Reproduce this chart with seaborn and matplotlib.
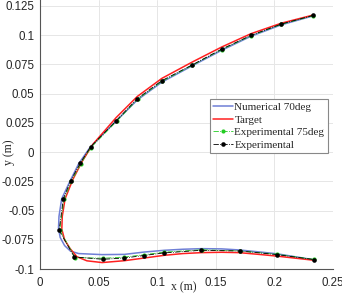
import numpy as np
import pandas as pd
import matplotlib
matplotlib.use("Agg")
import matplotlib.pyplot as plt
import seaborn as sns

# ---- data ----
num_x = [0.2333, 0.206, 0.180, 0.155, 0.130, 0.104, 0.083, 0.065, 0.052, 0.042, 0.033, 0.026,
         0.0185, 0.0162, 0.0158, 0.0172, 0.021, 0.026, 0.033, 0.053, 0.072, 0.089, 0.106,
         0.122, 0.138, 0.155, 0.170, 0.190, 0.2023, 0.2336]
num_y = [0.1165, 0.1088, 0.0990, 0.0870, 0.0738, 0.0598, 0.0445, 0.0265, 0.0135, 0.003, -0.010,
         -0.024, -0.040, -0.055, -0.065, -0.073, -0.080, -0.0847, -0.0868, -0.0877, -0.0875,
         -0.0855, -0.0840, -0.0831, -0.0826, -0.0828, -0.0837, -0.0857, -0.0870, -0.0921]

tgt_x = [0.2333, 0.206, 0.180, 0.155, 0.130, 0.104, 0.083, 0.065, 0.045, 0.036, 0.028, 0.0214,
         0.019, 0.0186, 0.021, 0.0257, 0.0315, 0.040, 0.053, 0.072, 0.089, 0.106, 0.122, 0.138,
         0.155, 0.170, 0.190, 0.2023, 0.2336]
tgt_y = [0.1172, 0.1102, 0.1012, 0.0898, 0.0770, 0.0630, 0.0475, 0.0295, 0.0065, -0.0080,
         -0.0235, -0.040, -0.055, -0.066, -0.075, -0.0826, -0.0895, -0.0930, -0.0945, -0.0929,
         -0.0906, -0.0883, -0.0868, -0.0860, -0.0857, -0.0860, -0.0878, -0.0890, -0.0925]

exp75_x = [0.2333, 0.206, 0.180, 0.155, 0.130, 0.1040, 0.0832, 0.0653, 0.0433, 0.0347, 0.0268,
           0.0204, 0.0168, 0.0300, 0.0540, 0.0720, 0.0888, 0.1055, 0.1379, 0.1703, 0.2023, 0.2336]
exp75_y = [0.1167, 0.1092, 0.0994, 0.0876, 0.0742, 0.0604, 0.0450, 0.0262, 0.0038, -0.0102,
           -0.0250, -0.0405, -0.0668, -0.0902, -0.0908, -0.0898, -0.0878, -0.0856, -0.0836,
           -0.0845, -0.0873, -0.0918]

exp_x = [0.2333, 0.206, 0.180, 0.155, 0.130, 0.1037, 0.0829, 0.065, 0.0432, 0.0342, 0.0262,
         0.0199, 0.0163, 0.0293, 0.0539, 0.0718, 0.0884, 0.1054, 0.1375, 0.1703, 0.2022, 0.2336]
exp_y = [0.1169, 0.1095, 0.0998, 0.0880, 0.0746, 0.0609, 0.0455, 0.0268, 0.0045, -0.0097,
         -0.0245, -0.0400, -0.0670, -0.0897, -0.0917, -0.0906, -0.0885, -0.0863, -0.0840,
         -0.0846, -0.0877, -0.0919]

labels = ["Numerical 70deg", "Target", "Experimental 75deg", "Experimental"]
x_ticks = [0, 0.05, 0.1, 0.15, 0.2, 0.25]
x_ticklabels = ["0", "0.05", "0.1", "0.15", "0.2", "0.25"]
y_ticks = [-0.1, -0.075, -0.05, -0.025, 0, 0.025, 0.05, 0.075, 0.1, 0.125]
y_ticklabels = ["-0.1", "-0.075", "-0.05", "-0.025", "0", "0.025", "0.05", "0.075", "0.1", "0.125"]

sns.set_style("whitegrid")
plt.rcParams['font.family'] = ['Liberation Sans', 'DejaVu Sans']

fig = plt.figure(figsize=(3.42, 2.93), dpi=100)
ax = fig.add_axes([40 / 342, 24 / 293, 293 / 342, 269 / 293])

df_num = pd.DataFrame({"x": num_x, "y": num_y})
df_tgt = pd.DataFrame({"x": tgt_x, "y": tgt_y})
df_e75 = pd.DataFrame({"x": exp75_x, "y": exp75_y})
df_exp = pd.DataFrame({"x": exp_x, "y": exp_y})

sns.lineplot(data=df_num, x="x", y="y", sort=False, estimator=None, ax=ax,
             color="#6f7fd6", linewidth=1.1, label=labels[0])
sns.lineplot(data=df_tgt, x="x", y="y", sort=False, estimator=None, ax=ax,
             color="#ff2020", linewidth=1.1, label=labels[1])
sns.lineplot(data=df_e75, x="x", y="y", sort=False, estimator=None, ax=ax,
             color="#22cc22", linewidth=0.6, linestyle="-.", marker="o", markersize=3,
             markeredgewidth=0, label=labels[2])
sns.lineplot(data=df_exp, x="x", y="y", sort=False, estimator=None, ax=ax,
             color="black", linewidth=0.6, linestyle="-.", marker="o", markersize=3.3,
             markeredgewidth=0, label=labels[3])

ax.set_xlim(0, 0.25)
ax.set_ylim(-0.1, 0.13)
ax.set_xticks(x_ticks)
ax.set_xticklabels(x_ticklabels)
ax.set_yticks(y_ticks)
ax.set_yticklabels(y_ticklabels)
ax.tick_params(axis="both", labelsize=8.3, colors="#262626", direction="in", length=3, width=0.6)
ax.tick_params(axis="x", pad=6)
ax.tick_params(axis="y", pad=4)
ax.grid(True, color="#e6e6e6", linewidth=0.7)
for s in ["top", "right"]:
    ax.spines[s].set_visible(False)
for s in ["left", "bottom"]:
    ax.spines[s].set_color("#555555")
    ax.spines[s].set_linewidth(0.8)

ax.set_xlabel("x (m)", family="Liberation Serif", fontsize=8.5, color="#262626")
ax.xaxis.set_label_coords(0.49, -0.045)
ax.set_ylabel("y (m)", family="Liberation Serif", fontsize=8.5, color="#262626")
ax.yaxis.set_label_coords(-0.085, 0.435)

leg = ax.legend(loc="upper left", bbox_to_anchor=(0.58, 0.632), frameon=True, fancybox=False,
                prop={"family": "Liberation Serif", "size": 8}, handlelength=1.8,
                handletextpad=0.1, labelspacing=0.25, borderpad=0.3, borderaxespad=0)
leg.get_frame().set_edgecolor("#888888")
leg.get_frame().set_linewidth(0.8)
leg.get_frame().set_facecolor("white")
leg.get_frame().set_alpha(1)

fig.savefig("out.png", dpi=100)
